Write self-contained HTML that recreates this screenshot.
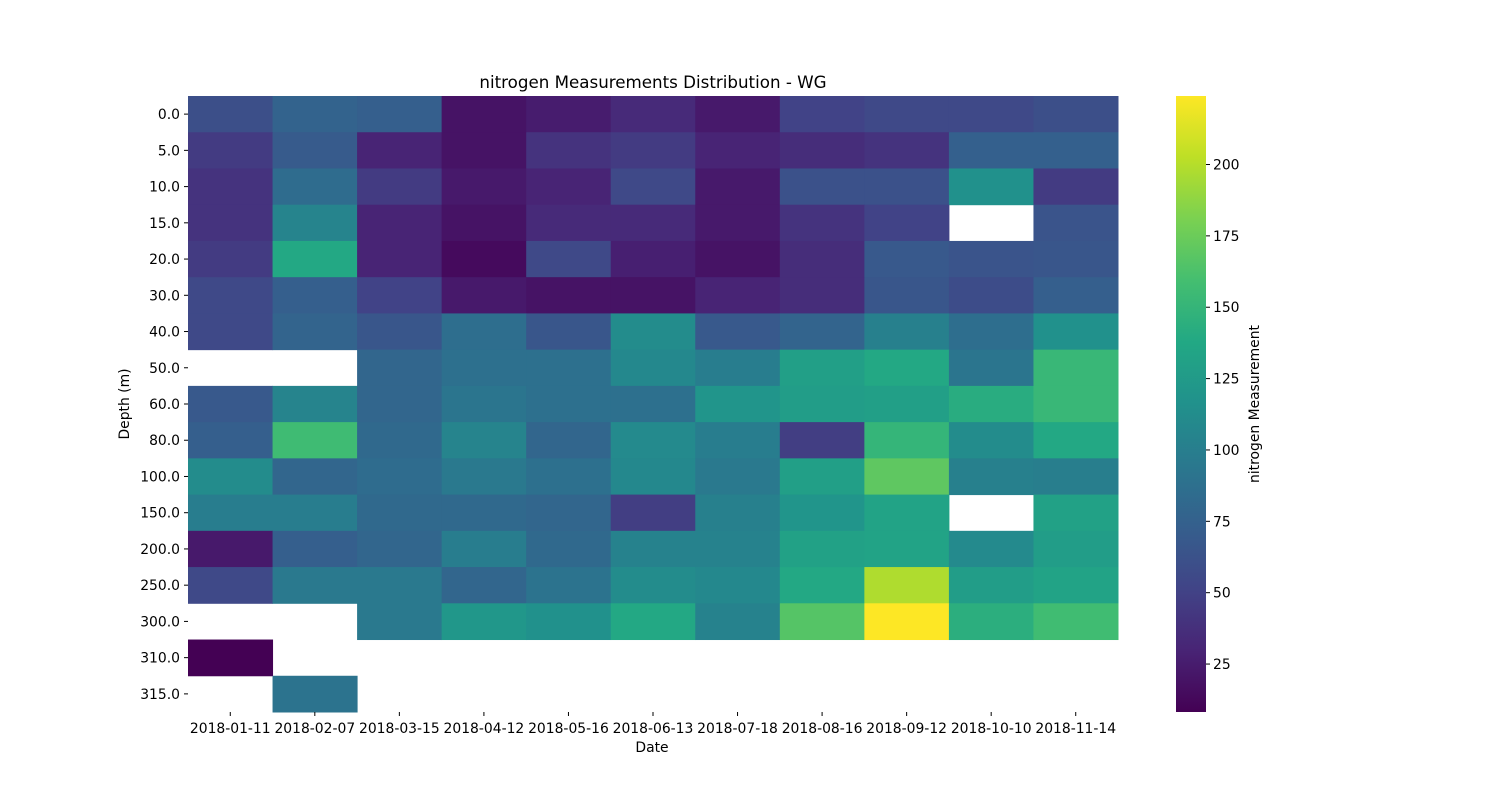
<!DOCTYPE html>
<html><head><meta charset="utf-8"><style>
body{margin:0;background:#fff;font-family:"DejaVu Sans","Liberation Sans",sans-serif;}
svg text{font-family:"DejaVu Sans","Liberation Sans",sans-serif;font-size:13.9px;fill:#000;}
</style></head><body>
<svg id="chart" width="1500" height="800">
<defs><linearGradient id="cbg" x1="0" y1="1" x2="0" y2="0"></linearGradient></defs>
<text x="653" y="88" text-anchor="middle" style="font-size:16.7px">nitrogen Measurements Distribution - WG</text>
<g id="cells"></g><g id="xt"></g><g id="yt"></g><g id="cb"></g>
<text x="652" y="752" text-anchor="middle">Date</text>
<text transform="translate(129,404) rotate(-90)" text-anchor="middle">Depth (m)</text>
<text transform="translate(1259,404) rotate(-90)" text-anchor="middle">nitrogen Measurement</text>
</svg>
<script>
const dates=["2018-01-11","2018-02-07","2018-03-15","2018-04-12","2018-05-16","2018-06-13","2018-07-18","2018-08-16","2018-09-12","2018-10-10","2018-11-14"];
const depths=["0.0","5.0","10.0","15.0","20.0","30.0","40.0","50.0","60.0","80.0","100.0","150.0","200.0","250.0","300.0","310.0","315.0"];
const values=[
[60,76,73,19,25,34,23,51,55,55,60],
[45,70,30,19,40,45,30,36,40,74,74],
[40,84,45,23,30,55,23,62,62,116,45],
[40,105,30,19,34,34,23,40,51,null,64],
[45,138,30,14,55,27,19,36,68,64,66],
[55,73,51,23,19,19,30,36,66,58,73],
[55,77,66,86,66,112,68,77,101,86,116],
[null,null,79,88,88,108,99,129,138,92,152],
[68,105,79,92,88,88,120,127,129,142,152],
[73,156,82,105,79,110,99,47,150,112,138],
[112,79,84,95,88,108,95,129,170,101,100],
[99,99,82,82,79,47,101,120,133,null,131],
[23,73,79,99,82,103,103,131,133,110,127],
[55,95,95,79,90,112,108,138,198,127,133],
[null,null,95,122,116,138,103,166,224,144,157],
[8,null,null,null,null,null,null,null,null,null,null],
[null,90,null,null,null,null,null,null,null,null,null]];
const cbTicks=[25,50,75,100,125,150,175,200];
const vmin=8.2,vmax=224;
const stops=[[68,1,84],[72,36,117],[65,68,135],[53,95,141],[42,120,142],[33,145,140],[34,168,132],[68,190,112],[122,209,81],[189,223,38],[253,231,37]];
function vir(t){t=Math.max(0,Math.min(1,t));const p=t*10,i=Math.min(9,Math.floor(p)),f=p-i;const a=stops[i],b=stops[i+1];return `rgb(${a.map((v,k)=>Math.round(v+(b[k]-v)*f)).join(',')})`;}
const X0=188,X1=1118,Y0=96,Y1=712;
const cw=(X1-X0)/dates.length,ch=(Y1-Y0)/depths.length;
const xS=i=>X0+i*cw, yS=j=>Y0+j*ch;
const NS="http://www.w3.org/2000/svg";
function mk(tag,attrs,parent,text){const e=document.createElementNS(NS,tag);for(const k in attrs)e.setAttribute(k,attrs[k]);if(text!==undefined)e.textContent=text;parent.appendChild(e);return e;}
const cells=document.getElementById('cells');
values.forEach((row,j)=>row.forEach((v,i)=>{if(v===null)return;
const r=mk('rect',{x:xS(i),y:yS(j),width:cw+0.5,height:ch+0.5,fill:vir((v-vmin)/(vmax-vmin))},cells);

}));
const xt=document.getElementById('xt');
dates.forEach((d,i)=>{const cx=xS(i)+cw/2;
mk('line',{x1:cx,x2:cx,y1:Y1,y2:Y1+4,stroke:'#000'},xt);
const t=mk('text',{x:cx,y:Y1+21,'text-anchor':'middle'},xt,d);

});
const yt=document.getElementById('yt');
depths.forEach((d,j)=>{const cy=yS(j)+ch/2;
mk('line',{x1:X0-4,x2:X0,y1:cy,y2:cy,stroke:'#000'},yt);
const t=mk('text',{x:X0-8,y:cy+5,'text-anchor':'end'},yt,d);

});
const g=document.getElementById('cbg');
for(let k=0;k<=10;k++)mk('stop',{offset:(k*10)+'%','stop-color':vir(k/10)},g);
const cb=document.getElementById('cb');
const bar=mk('rect',{x:1176,y:Y0,width:30,height:Y1-Y0,fill:'url(#cbg)'},cb);


const cy=v=>Y1-(v-vmin)/(vmax-vmin)*(Y1-Y0);
cbTicks.forEach(v=>{const y=cy(v);
mk('line',{x1:1206,x2:1210,y1:y,y2:y,stroke:'#000'},cb);
const t=mk('text',{x:1213,y:y+5},cb,String(v));

});
</script>
</body></html>
